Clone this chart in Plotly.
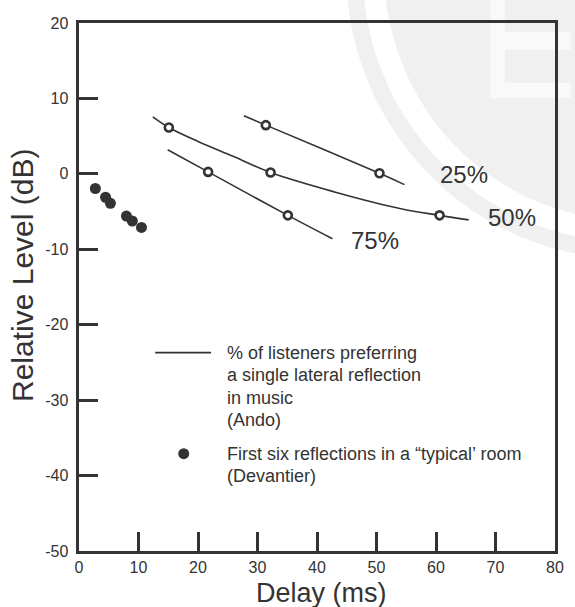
import plotly.graph_objects as go

# ---------------- data ----------------
# Ando curves: % of listeners preferring a single lateral reflection
c25_x = [27.7, 31.4, 50.5, 54.7]
c25_y = [7.7, 6.46, 0.08, -1.43]
c50_x = [12.4, 15.1, 20.0, 26.0, 32.2, 43.1, 54.1, 60.6, 65.5]
c50_y = [7.56, 6.15, 4.3, 2.3, 0.17, -2.43, -4.62, -5.5, -6.1]
c75_x = [14.9, 21.7, 35.1, 42.6]
c75_y = [3.2, 0.26, -5.5, -8.6]

# measured points (open circles)
m25_x = [31.4, 50.5]
m25_y = [6.46, 0.08]
m50_x = [15.1, 32.2, 60.6]
m50_y = [6.15, 0.17, -5.5]
m75_x = [21.7, 35.1]
m75_y = [0.26, -5.5]

# Devantier: first six reflections in a typical room
dev_x = [2.75, 4.46, 5.28, 7.97, 8.96, 10.5]
dev_y = [-1.94, -3.1, -3.9, -5.6, -6.25, -7.1]

curve_labels = ["25%", "50%", "75%"]
label_x = [60.3, 68.4, 45.4]
label_y = [-0.1, -5.77, -8.9]

# in-plot key
key_line_x = [12.8, 22.2]
key_line_y = [-23.7, -23.7]
key_dot_x = [17.6]
key_dot_y = [-37.1]
key_text_x = 24.5
key1_lines = ["% of listeners preferring", "a single lateral reflection", "in music", "(Ando)"]
key1_y = [-23.7, -26.7, -29.7, -32.6]
key2_lines = ["First six reflections in a \u201ctypical\u2019 room", "(Devantier)"]
key2_y = [-37.1, -40.1]

x_ticks = [0, 10, 20, 30, 40, 50, 60, 70, 80]
x_ticktext = ["0", "10", "20", "30", "40", "50", "60", "70", "80"]
y_ticks = [20, 10, 0, -10, -20, -30, -40, -50]
y_ticktext = ["20", "10", "0", "-10", "-20", "-30", "-40", "-50"]

x_title = "Delay (ms)"
y_title = "Relative Level (dB)"

# ---------------- style ----------------
INK = "#333333"
FONT = "Liberation Sans, Arial, Helvetica, sans-serif"

fig = go.Figure()

for cx, cy in [(c25_x, c25_y), (c50_x, c50_y), (c75_x, c75_y)]:
    fig.add_trace(go.Scatter(x=cx, y=cy, mode="lines",
                             line=dict(color=INK, width=1.6, shape="spline", smoothing=1.0),
                             hoverinfo="skip", showlegend=False))

for mx, my in [(m25_x, m25_y), (m50_x, m50_y), (m75_x, m75_y)]:
    fig.add_trace(go.Scatter(x=mx, y=my, mode="markers",
                             marker=dict(size=8, color="white", line=dict(color=INK, width=2.6)),
                             showlegend=False))

fig.add_trace(go.Scatter(x=dev_x, y=dev_y, mode="markers",
                         marker=dict(size=11, color=INK), showlegend=False))

# key
fig.add_trace(go.Scatter(x=key_line_x, y=key_line_y, mode="lines",
                         line=dict(color=INK, width=1.6), showlegend=False))
fig.add_trace(go.Scatter(x=key_dot_x, y=key_dot_y, mode="markers",
                         marker=dict(size=11, color=INK), showlegend=False))

annotations = []
for t, x, y in zip(curve_labels, label_x, label_y):
    annotations.append(dict(x=x, y=y, text=t, showarrow=False, xanchor="left", yanchor="middle",
                            font=dict(size=24, color=INK, family=FONT)))
for t, y in zip(key1_lines, key1_y):
    annotations.append(dict(x=key_text_x, y=y, text=t, showarrow=False, xanchor="left", yanchor="middle",
                            font=dict(size=18, color=INK, family=FONT)))
for t, y in zip(key2_lines, key2_y):
    annotations.append(dict(x=key_text_x, y=y, text=t, showarrow=False, xanchor="left", yanchor="middle",
                            font=dict(size=18, color=INK, family=FONT)))
annotations.append(dict(xref="paper", yref="paper", x=0.51, y=-0.08, text=x_title, showarrow=False,
                        xanchor="center", yanchor="middle", font=dict(size=27, color=INK, family=FONT)))
annotations.append(dict(xref="paper", yref="paper", x=-0.1175, y=0.521, text=y_title, showarrow=False,
                        textangle=-90, xanchor="center", yanchor="middle",
                        font=dict(size=30, color=INK, family=FONT)))

# faint background watermark (logo at top right)
L, B, W, H = 79, 551, 485, 528

def circ(cx, cy, r):
    return dict(x0=(cx - r - L) / W, x1=(cx + r - L) / W,
                y0=(B - (cy + r)) / H, y1=(B - (cy - r)) / H)

def rect(px0, py0, px1, py1):
    return dict(x0=(px0 - L) / W, x1=(px1 - L) / W,
                y0=(B - py1) / H, y1=(B - py0) / H)

shapes = []
for r, col in [(289, "#f0f0f0"), (272, "#ffffff"), (250, "#f0f0f0")]:
    shapes.append(dict(type="circle", xref="paper", yref="paper", layer="below",
                       fillcolor=col, line=dict(width=0), **circ(640, -30, r)))
for bx in [(498, 0, 513, 98), (498, 32, 580, 50), (498, 83, 580, 98)]:
    shapes.append(dict(type="rect", xref="paper", yref="paper", layer="below",
                       fillcolor="#f9f9f9", line=dict(width=0), **rect(*bx)))

fig.update_layout(
    width=575, height=607,
    margin=dict(l=79, r=11, t=23, b=56),
    paper_bgcolor="white", plot_bgcolor="rgba(0,0,0,0)",
    font=dict(family=FONT, color=INK),
    showlegend=False,
    annotations=annotations,
    shapes=shapes,
)
fig.update_xaxes(range=[0, 80], tickvals=x_ticks, ticktext=x_ticktext,
                 showline=True, linecolor=INK, linewidth=3, mirror=True,
                 ticks="inside", ticklen=19, tickwidth=3, tickcolor=INK,
                 showgrid=False, zeroline=False,
                 tickfont=dict(size=16, color=INK, family=FONT))
fig.update_yaxes(range=[-50, 20], tickvals=y_ticks, ticktext=[t + "\u00a0" for t in y_ticktext],
                 showline=True, linecolor=INK, linewidth=3, mirror=True,
                 ticks="inside", ticklen=19, tickwidth=3, tickcolor=INK,
                 showgrid=False, zeroline=False,
                 tickfont=dict(size=16, color=INK, family=FONT))

fig.write_html("out.html")
